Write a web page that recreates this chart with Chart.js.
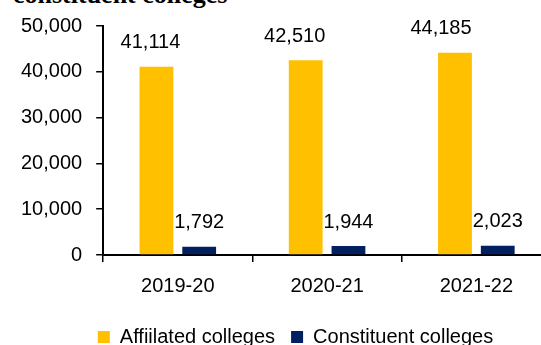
<!DOCTYPE html>
<html>
<head>
<meta charset="utf-8">
<script src="https://cdn.jsdelivr.net/npm/chart.js@4.4.1/dist/chart.umd.min.js"></script>
<style>
  body { margin: 0; overflow: hidden; background: #fff; width: 541px; height: 345px; position: relative; }
  #title {
    position: absolute; left: 13px; top: -18px;
    font: bold 26px/26px "Liberation Serif", "Times New Roman", serif;
    color: #000; white-space: nowrap;
  }
  #wrap { position: absolute; left: 0; top: 0; }
</style>
</head>
<body>
<div id="title">constituent colleges</div>
<div id="wrap"><canvas id="chart" width="591" height="357"></canvas></div>
<script>
const years = ["2019-20", "2020-21", "2021-22"];
const affiliated = [41114, 42510, 44185];
const constituent = [1792, 1944, 2023];
const yMax = 50000;
const yStep = 10000;

// value labels above the yellow bars sit a little left of centre
const affiliatedLabelNudge = [-6, -11, -14];

const FONT = '"Liberation Sans", Arial, sans-serif';
const fmt = v => Number(v).toLocaleString("en-US");

const valueLabels = {
  id: "valueLabels",
  afterDatasetsDraw(chart) {
    const ctx = chart.ctx;
    ctx.save();
    ctx.font = "20px " + FONT;
    ctx.fillStyle = "#000";
    ctx.textAlign = "center";
    ctx.textBaseline = "middle";
    chart.data.datasets.forEach((ds, i) => {
      chart.getDatasetMeta(i).data.forEach((bar, j) => {
        const dx = i === 0 ? affiliatedLabelNudge[j] : 0;
        ctx.fillText(fmt(ds.data[j]), bar.x + dx, bar.y - 24);
      });
    });
    ctx.restore();
  }
};

// centre the legend on the whole canvas instead of the padded box
const legendShift = {
  id: "legendShift",
  afterLayout(chart) {
    const lg = chart.legend;
    const dx = chart.width / 2 - (lg.left + lg.right) / 2;
    lg.left += dx;
    lg.right += dx;
  }
};

new Chart(document.getElementById("chart"), {
  type: "bar",
  data: {
    labels: years,
    datasets: [
      { label: "Affiilated colleges", data: affiliated, backgroundColor: "#FFC000" },
      { label: "Constituent colleges", data: constituent, backgroundColor: "#002060" }
    ]
  },
  options: {
    responsive: false,
    animation: false,
    events: [],
    categoryPercentage: 0.573,
    barPercentage: 0.79,
    layout: { padding: { top: 12, left: 7, right: 40, bottom: 0 } },
    plugins: {
      tooltip: { enabled: false },
      legend: {
        position: "bottom",
        labels: {
          boxWidth: 12,
          boxHeight: 12,
          padding: 16,
          color: "#000",
          font: { family: FONT, size: 20 }
        }
      }
    },
    scales: {
      x: {
        grid: { drawOnChartArea: false, drawTicks: true, tickLength: 7, color: "#000", lineWidth: 1.5, offset: true },
        border: { color: "#000", width: 2 },
        ticks: { color: "#000", padding: 12, font: { family: FONT, size: 20 } },
        afterFit(scale) { scale.height += 1; }
      },
      y: {
        min: 0,
        max: yMax,
        grid: { drawOnChartArea: false, drawTicks: true, tickLength: 7, color: "#000", lineWidth: 1.5 },
        border: { color: "#000", width: 2 },
        ticks: { stepSize: yStep, color: "#000", padding: 14, font: { family: FONT, size: 20 }, callback: v => fmt(v) }
      }
    }
  },
  plugins: [valueLabels, legendShift]
});
</script>
</body>
</html>
